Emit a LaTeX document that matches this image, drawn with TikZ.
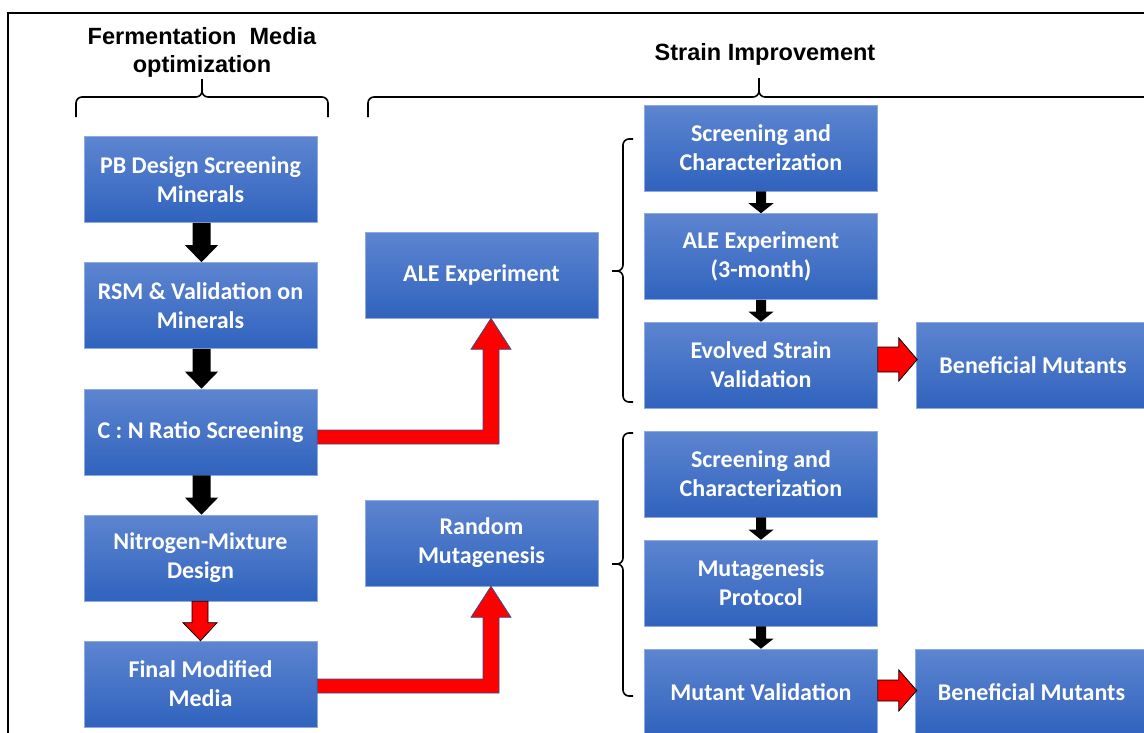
\documentclass[tikz,border=0pt]{standalone}
\usepackage{fontspec}
\newfontfamily\carl{Carlito}
\newfontfamily\lsans{Liberation Sans}
\usetikzlibrary{calc}
\definecolor{boxtop}{RGB}{93,133,208}
\definecolor{boxbot}{RGB}{48,99,190}
\definecolor{boxedge}{RGB}{143,170,220}
\definecolor{elbowedge}{RGB}{47,82,143}
\tikzset{
  box/.style={shade, top color=boxtop, bottom color=boxbot, draw=boxedge, line width=0.6pt,
    text=white, font=\carl\bfseries\fontsize{24}{29}\selectfont, align=center,
    minimum width=233pt, minimum height=86pt, inner sep=0pt},
  title/.style={font=\lsans\bfseries\fontsize{23.5}{28}\selectfont, anchor=base, inner sep=0pt},
  brace/.style={draw=black, line width=1.6pt, rounded corners=6pt},
  blk/.style={fill=black},
  redo/.style={fill=red, draw=black, line width=0.8pt},
  rede/.style={fill=red, draw=elbowedge, line width=0.8pt}
}
\begin{document}
\begin{tikzpicture}[x=1pt,y=-1pt]
\useasboundingbox (0,0) rectangle (1144,732);
% frame
\draw[line width=1.5pt] (8,740) -- (8,13) -- (1150,13);
% titles
\node[title] (t1) at (202,44) {Fermentation\ \ Media};
\node[title] (t2) at (202,72.5) {optimization};
\node[title] (t3) at (765,60) {Strain Improvement};
% braces
\draw[brace] (76,117) -- (76,97) -- (202,97) -- (202,79);
\draw[brace] (328,117) -- (328,97) -- (202,97) -- (202,79);
\draw[brace] (368,117) -- (368,97) -- (759,97) -- (759,78);
\draw[brace] (1170,97) -- (759,97) -- (759,78);
\draw[brace] (633,139) -- (623,139) -- (623,271) -- (612,271);
\draw[brace] (633,402) -- (623,402) -- (623,271) -- (612,271);
\draw[brace] (633,433) -- (623,433) -- (623,564) -- (612,564);
\draw[brace] (633,696) -- (623,696) -- (623,564) -- (612,564);
% boxes
\node[box] (pb) at (200.5,179.5) {PB Design Screening\\Minerals};
\node[box] (rsm) at (200.5,305.5) {RSM \& Validation on\\Minerals};
\node[box] (cn) at (200.5,432) {C : N Ratio Screening};
\node[box] (nm) at (200.5,558) {Nitrogen-Mixture\\Design};
\node[box] (fm) at (200.5,684) {Final Modified\\Media};
\node[box] (ale) at (481.5,275) {ALE Experiment};
\node[box] (rm) at (481.5,543) {Random\\Mutagenesis};
\node[box] (sc1) at (761,148) {Screening and\\Characterization};
\node[box] (ale3) at (761,256.5) {ALE Experiment\\(3-month)};
\node[box] (evs) at (761,365) {Evolved Strain\\Validation};
\node[box] (bm1) at (1033,365) {Beneficial Mutants};
\node[box] (sc2) at (761,474) {Screening and\\Characterization};
\node[box] (mp) at (761,583) {Mutagenesis\\Protocol};
\node[box] (mv) at (761,692) {Mutant Validation};
\node[box] (bm2) at (1031.5,692) {Beneficial Mutants};
% left column down arrows
\foreach \a/\b/\s in {pb/rsm/blk, rsm/cn/blk, cn/nm/blk} {
  \path[\s] let \p1=(\a.south), \p2=(\b.north) in
    (\x1-8pt,\y1) -- (\x1+10pt,\y1) -- (\x1+10pt,\y2+17pt) -- (\x1+17.5pt,\y2+17pt)
    -- (\x1+1pt,\y2) -- (\x1-15.5pt,\y2+17pt) -- (\x1-8pt,\y2+17pt) -- cycle;
}
\path[redo] let \p1=(nm.south), \p2=(fm.north) in
    (\x1-8.5pt,\y1) -- (\x1+7.5pt,\y1) -- (\x1+7.5pt,\y2+18pt) -- (\x1+16.5pt,\y2+18pt)
    -- (\x1,\y2) -- (\x1-17.5pt,\y2+18pt) -- (\x1-8.5pt,\y2+18pt) -- cycle;
% right column down arrows
\foreach \a/\b in {sc1/ale3, ale3/evs, sc2/mp, mp/mv} {
  \path[blk] let \p1=(\a.south), \p2=(\b.north) in
    (\x1-5pt,\y1) -- (\x1+5pt,\y1) -- (\x1+5pt,\y2+10pt) -- (\x1+12.5pt,\y2+10pt)
    -- (\x1,\y2) -- (\x1-12.5pt,\y2+10pt) -- (\x1-5pt,\y2+10pt) -- cycle;
}
% elbow arrows
\path[rede] let \p1=(cn.east), \p2=(ale.south) in
  (\x1,\y1+2pt) -- (\x2+1.5pt,\y1+2pt) -- (\x2+1.5pt,\y2-31pt) -- (\x2-10.5pt,\y2-31pt)
  -- (\x2+9.5pt,\y2) -- (\x2+29.5pt,\y2-31pt) -- (\x2+17.5pt,\y2-31pt)
  -- (\x2+17.5pt,\y1-12pt) -- (\x1,\y1-12pt) -- cycle;
\path[rede] let \p1=(fm.east), \p2=(rm.south) in
  (\x1,\y1+5pt) -- (\x2+1.5pt,\y1+5pt) -- (\x2+1.5pt,\y2-31pt) -- (\x2-10.5pt,\y2-31pt)
  -- (\x2+9.5pt,\y2) -- (\x2+29.5pt,\y2-31pt) -- (\x2+17.5pt,\y2-31pt)
  -- (\x2+17.5pt,\y1-9pt) -- (\x1,\y1-9pt) -- cycle;
% right red arrows
\path[redo] let \p1=(evs.east), \p2=(bm1.west) in
  (\x1,\y1+18pt) -- (\x1+21pt,\y1+18pt) -- (\x1+21pt,\y1+27pt) -- (\x2+1pt,\y1+5.5pt)
  -- (\x1+21pt,\y1-16pt) -- (\x1+21pt,\y1-7pt) -- (\x1,\y1-7pt) -- cycle;
\path[redo] let \p1=(mv.east), \p2=(bm2.west) in
  (\x1,\y1+12pt) -- (\x1+21pt,\y1+12pt) -- (\x1+21pt,\y1+22pt) -- (\x2+2pt,\y1+1.5pt)
  -- (\x1+21pt,\y1-19pt) -- (\x1+21pt,\y1-9pt) -- (\x1,\y1-9pt) -- cycle;
\end{tikzpicture}
\end{document}
